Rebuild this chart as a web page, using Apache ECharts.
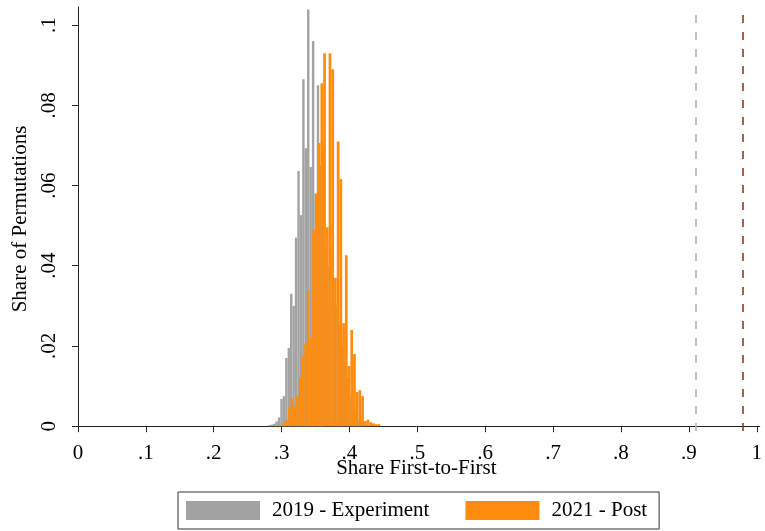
<!DOCTYPE html>
<html>
<head>
<meta charset="utf-8">
<script src="https://cdn.jsdelivr.net/npm/echarts@6/dist/echarts.min.js"></script>
<style>
  html, body { margin: 0; padding: 0; background: #fff; }
  #main { width: 765px; height: 531px; }
</style>
</head>
<body>
<div id="main"></div>
<script>
// histogram bins (share first-to-first), heights = share of permutations
const grayStart = 0.2802;
const grayWidth = 0.00358;
const grayHeights = [
  0.0003, 0.0004, 0.0006, 0.0012, 0.0022, 0.0068, 0.0075, 0.017, 0.0195, 0.033,
  0.030, 0.047, 0.0636, 0.0526, 0.0865, 0.0693, 0.1039, 0.0646, 0.096, 0.058,
  0.085, 0.065, 0.07, 0.045, 0.04, 0.05, 0.045, 0.03, 0.03, 0.025,
  0.02, 0.015, 0.012, 0.008, 0.006, 0.004, 0.003, 0.0015, 0.001, 0.0005
];
const orangeStart = 0.2893;
const orangeWidth = 0.004;
const orangeHeights = [
  0.0001, 0.0003, 0.0003, 0.0007, 0.0015, 0.0045, 0.007, 0.005, 0.0075, 0.0122,
  0.0175, 0.0205, 0.034, 0.022, 0.049, 0.058, 0.0706, 0.0855, 0.093, 0.0496,
  0.093, 0.089, 0.037, 0.071, 0.0616, 0.0257, 0.0426, 0.015, 0.024, 0.018,
  0.0085, 0.009, 0.0075, 0.0013, 0.0016, 0.001, 0.0007, 0.0005, 0.0005
];
const observed2019 = 0.913;
const observed2021 = 0.984;
const seriesNames = ['2019 - Experiment', '2021 - Post'];
const xTicks = [0, 0.1, 0.2, 0.3, 0.4, 0.5, 0.6, 0.7, 0.8, 0.9, 1];
const xTickLabels = ['0', '.1', '.2', '.3', '.4', '.5', '.6', '.7', '.8', '.9', '1'];
const yTicks = [0, 0.02, 0.04, 0.06, 0.08, 0.1];
const yTickLabels = ['0', '.02', '.04', '.06', '.08', '.1'];

function toBins(start, width, heights) {
  return heights.map((h, i) => [start + i * width, start + (i + 1) * width, h]);
}

function renderBar(params, api) {
  const a = api.coord([api.value(0), api.value(2)]);
  const b = api.coord([api.value(1), 0]);
  return {
    type: 'rect',
    shape: { x: a[0], y: a[1], width: b[0] - a[0], height: b[1] - a[1] },
    style: api.style()
  };
}

const font = '"Liberation Serif", "Times New Roman", serif';
const myChart = echarts.init(document.getElementById('main'));

const option = {
  animation: false,
  backgroundColor: '#fff',
  textStyle: { fontFamily: font },
  grid: { left: 73, right: 2, top: 7, bottom: 100 },
  xAxis: {
    type: 'value',
    min: -0.0073,
    max: 1.0044,
    name: 'Share First-to-First',
    nameLocation: 'middle',
    nameGap: 37,
    nameMoveOverlap: false,
    nameTextStyle: { fontFamily: font, fontSize: 21, color: '#000', verticalAlign: 'middle' },
    axisLine: { lineStyle: { color: '#222', width: 1 } },
    axisTick: { show: true, length: 6, customValues: xTicks, lineStyle: { color: '#222' } },
    axisLabel: {
      customValues: xTicks,
      formatter: v => xTickLabels[xTicks.findIndex(t => Math.abs(t - v) < 1e-6)],
      fontFamily: font, fontSize: 21, color: '#000', margin: 12
    },
    splitLine: { show: false }
  },
  yAxis: {
    type: 'value',
    min: -0.0012,
    max: 0.1045,
    name: 'Share of Permutations',
    nameLocation: 'middle',
    nameRotate: 90,
    nameGap: 33,
    nameTextStyle: { fontFamily: font, fontSize: 21, color: '#000' },
    axisLine: { show: true, lineStyle: { color: '#222', width: 1 } },
    axisTick: { show: true, length: 6, customValues: yTicks, lineStyle: { color: '#222' } },
    axisLabel: {
      customValues: yTicks,
      formatter: v => yTickLabels[yTicks.findIndex(t => Math.abs(t - v) < 1e-6)],
      rotate: 90,
      fontFamily: font, fontSize: 21, color: '#000', margin: 13
    },
    splitLine: { show: false }
  },
  legend: {
    data: seriesNames,
    left: 178,
    top: 492,
    orient: 'horizontal',
    icon: 'rect',
    itemWidth: 74,
    itemHeight: 19,
    itemGap: 36,
    padding: [8, 12, 8, 8],
    borderColor: '#333',
    borderWidth: 1,
    textStyle: { fontFamily: font, fontSize: 21, color: '#000', padding: [0, 0, 0, 7] }
  },
  series: [
    {
      name: seriesNames[0],
      type: 'custom',
      renderItem: renderBar,
      itemStyle: { color: '#a3a3a3' },
      encode: { x: [0, 1], y: 2 },
      data: toBins(grayStart, grayWidth, grayHeights),
      z: 2
    },
    {
      name: seriesNames[1],
      type: 'custom',
      renderItem: renderBar,
      itemStyle: { color: '#ff8c0f' },
      encode: { x: [0, 1], y: 2 },
      data: toBins(orangeStart, orangeWidth, orangeHeights),
      z: 3
    },
    {
      name: 'observed',
      type: 'line',
      data: [],
      markLine: {
        silent: true,
        symbol: 'none',
        label: { show: false },
        data: [
          { xAxis: observed2019, lineStyle: { color: '#b3b3b3', type: [8, 9], width: 1.6 } },
          { xAxis: observed2021, lineStyle: { color: '#a3321c', type: [8, 9], width: 1.6 } }
        ]
      }
    }
  ]
};

myChart.setOption(option);
</script>
</body>
</html>
